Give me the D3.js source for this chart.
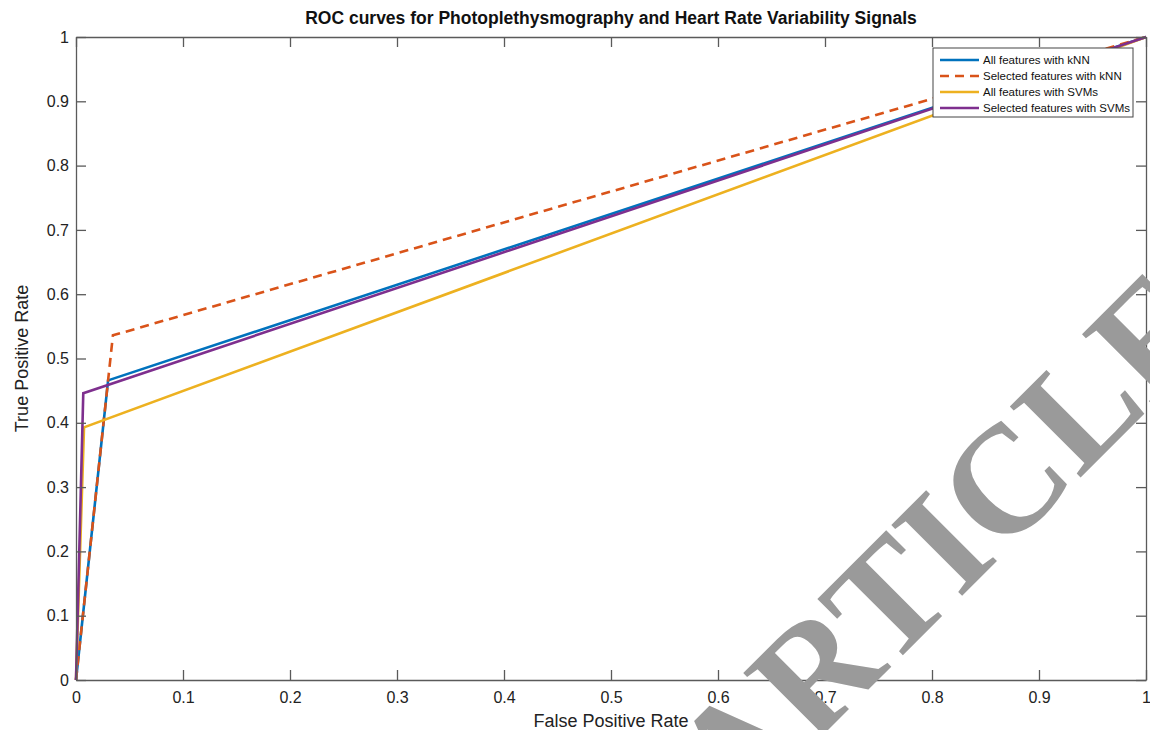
<!DOCTYPE html>
<html>
<head>
<meta charset="utf-8">
<script src="https://cdn.jsdelivr.net/npm/d3@7"></script>
<style>
  body { margin: 0; background: #fff; }
  svg { display: block; font-family: "Liberation Sans", Arial, sans-serif; }
</style>
</head>
<body>
<svg id="chart" width="1150" height="730"></svg>
<script>
// series (false positive rate, true positive rate)
const seriesNames = ["All features with kNN", "Selected features with kNN", "All features with SVMs", "Selected features with SVMs"];
const allKnnFpr = [0, 0.030, 1];
const allKnnTpr = [0, 0.466, 1];
const selKnnFpr = [0, 0.0345, 1];
const selKnnTpr = [0, 0.536, 1];
const allSvmFpr = [0, 0.0075, 1];
const allSvmTpr = [0, 0.393, 1];
const selSvmFpr = [0, 0.0068, 1];
const selSvmTpr = [0, 0.446, 1];
const xTicks = [0, 0.1, 0.2, 0.3, 0.4, 0.5, 0.6, 0.7, 0.8, 0.9, 1];
const yTicks = [0, 0.1, 0.2, 0.3, 0.4, 0.5, 0.6, 0.7, 0.8, 0.9, 1];

const colors = ["#0072BD", "#D95319", "#EDB120", "#7E2F8E"];
const dashes = [null, "9,6", null, null];

const series = [
    [allKnnFpr, allKnnTpr],
    [selKnnFpr, selKnnTpr],
    [allSvmFpr, allSvmTpr],
    [selSvmFpr, selSvmTpr]
].map((s, i) => ({
    name: seriesNames[i],
    points: s[0].map((f, j) => ({ x: f, y: s[1][j] }))
}));

const svg = d3.select("#chart");
const plotLeft = 76, plotRight = 1146, plotTop = 37, plotBottom = 680;

const x = d3.scaleLinear().domain([0, 1]).range([plotLeft, plotRight]);
const y = d3.scaleLinear().domain([0, 1]).range([plotBottom, plotTop]);

const axisColor = "#5a5a5a";
const textColor = "#222";

// title
svg.append("text")
    .attr("x", (plotLeft + plotRight) / 2)
    .attr("y", 24)
    .attr("text-anchor", "middle")
    .style("font-weight", "bold")
    .style("font-size", "17.5px")
    .attr("fill", "#111")
    .text("ROC curves for Photoplethysmography and Heart Rate Variability Signals");

// curves
const line = d3.line().x(d => x(d.x)).y(d => y(d.y));
svg.append("g").selectAll("path")
    .data(series)
    .enter().append("path")
    .attr("d", d => line(d.points))
    .attr("fill", "none")
    .attr("stroke", (d, i) => colors[i])
    .attr("stroke-width", 2.6)
    .attr("stroke-dasharray", (d, i) => dashes[i]);

// axes, MATLAB style: ticks inward on all four sides
const tickLen = 10;
const xb = svg.append("g")
    .attr("transform", `translate(0,${plotBottom})`)
    .call(d3.axisBottom(x).tickValues(xTicks).tickSizeInner(-tickLen).tickSizeOuter(0).tickPadding(12)
        .tickFormat(d => d3.format("")(d)));
const yl = svg.append("g")
    .attr("transform", `translate(${plotLeft},0)`)
    .call(d3.axisLeft(y).tickValues(yTicks).tickSizeInner(-tickLen).tickSizeOuter(0).tickPadding(7)
        .tickFormat(d => d3.format("")(d)));
const xt = svg.append("g")
    .attr("transform", `translate(0,${plotTop})`)
    .call(d3.axisTop(x).tickValues(xTicks).tickSizeInner(-tickLen).tickSizeOuter(0).tickFormat(""));
const yr = svg.append("g")
    .attr("transform", `translate(${plotRight},0)`)
    .call(d3.axisRight(y).tickValues(yTicks).tickSizeInner(-tickLen).tickSizeOuter(0).tickFormat(""));

[xb, yl, xt, yr].forEach(g => {
    g.selectAll("path").attr("stroke", axisColor).attr("stroke-width", 1.3);
    g.selectAll("line").attr("stroke", axisColor).attr("stroke-width", 1.3);
    g.selectAll("text").attr("fill", textColor).style("font-size", "16px").style("font-family", "Liberation Sans, Arial, sans-serif");
});

// axis labels
svg.append("text")
    .attr("x", (plotLeft + plotRight) / 2)
    .attr("y", 727)
    .attr("text-anchor", "middle")
    .style("font-size", "18px")
    .attr("fill", textColor)
    .text("False Positive Rate");
svg.append("text")
    .attr("transform", `translate(28,${(plotTop + plotBottom) / 2}) rotate(-90)`)
    .attr("text-anchor", "middle")
    .style("font-size", "18px")
    .attr("fill", textColor)
    .text("True Positive Rate");

// legend
const lg = svg.append("g").attr("transform", "translate(933,48)");
lg.append("rect")
    .attr("width", 200).attr("height", 69)
    .attr("fill", "#fff")
    .attr("stroke", "#444").attr("stroke-width", 1);
series.forEach((s, i) => {
    const yy = 12 + i * 16;
    lg.append("line")
        .attr("x1", 7).attr("x2", 46).attr("y1", yy).attr("y2", yy)
        .attr("stroke", colors[i]).attr("stroke-width", 2.6)
        .attr("stroke-dasharray", dashes[i]);
    lg.append("text")
        .attr("x", 50).attr("y", yy + 4)
        .style("font-size", "11.5px")
        .attr("fill", "#111")
        .text(s.name);
});

// watermark stamped over the figure
svg.append("text")
    .attr("transform", "translate(734,824) rotate(-45)")
    .style("font-family", "Liberation Serif, Times New Roman, serif")
    .style("font-weight", "bold")
    .style("font-size", "153px")
    .attr("fill", "#9a9a9a")
    .text("ARTICLE");
</script>
</body>
</html>
